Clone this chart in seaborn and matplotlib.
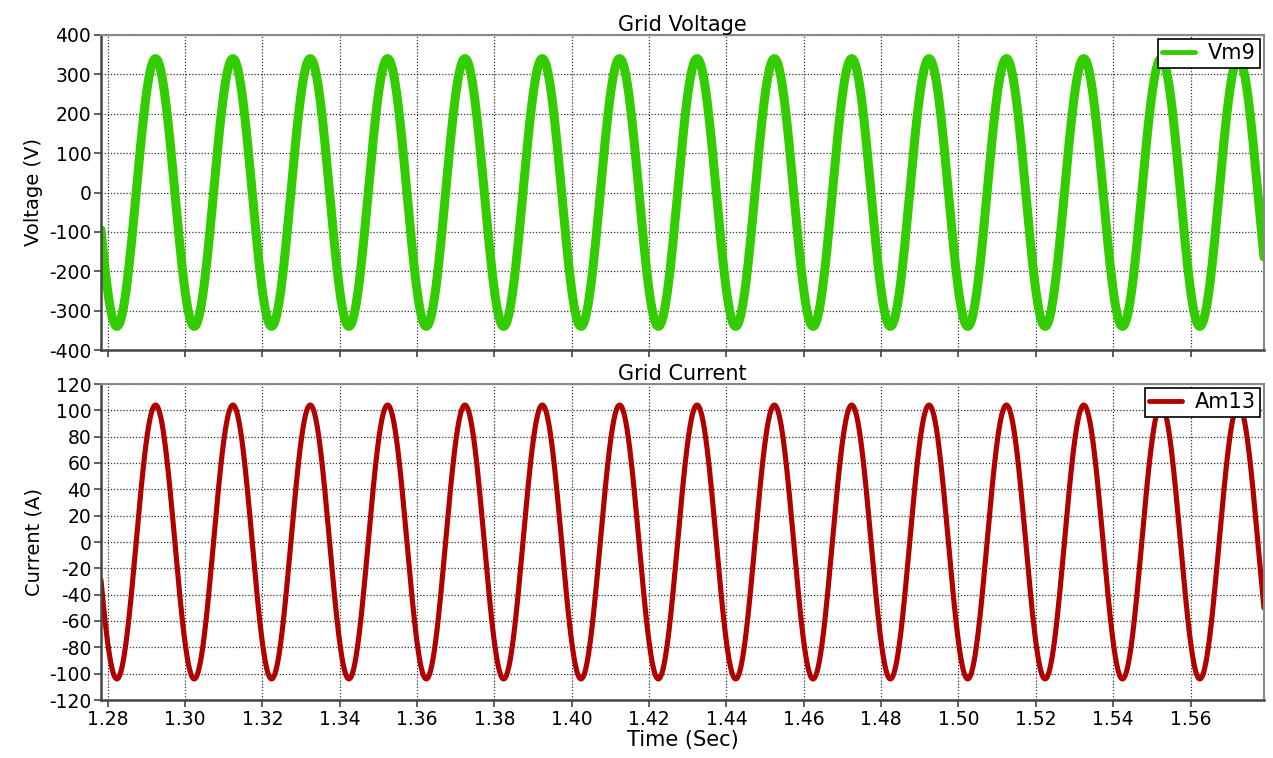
import numpy as np
import pandas as pd
import matplotlib
matplotlib.use("Agg")
import matplotlib.pyplot as plt
import seaborn as sns

# Values (50 Hz grid waveforms)
freq_hz = 50.0
voltage_peak = 340.0        # V
current_peak = 104.0        # A
first_trough_time = 1.2824  # s, both signals have a trough here
t_start, t_end = 1.2783, 1.5790

x_ticks = [1.28, 1.30, 1.32, 1.34, 1.36, 1.38, 1.40, 1.42, 1.44, 1.46,
           1.48, 1.50, 1.52, 1.54, 1.56]
x_tick_labels = ["1.28", "1.30", "1.32", "1.34", "1.36", "1.38", "1.40", "1.42",
                 "1.44", "1.46", "1.48", "1.50", "1.52", "1.54", "1.56"]
v_ticks = [-400, -300, -200, -100, 0, 100, 200, 300, 400]
i_ticks = [-120, -100, -80, -60, -40, -20, 0, 20, 40, 60, 80, 100, 120]

time = np.linspace(t_start, t_end, 3000)
phase = 2 * np.pi * freq_hz * (time - first_trough_time)
df = pd.DataFrame({
    "time": time,
    "Vm9": -voltage_peak * np.cos(phase),
    "Am13": -current_peak * np.cos(phase),
})

sns.set_style("white")
plt.rcParams["font.family"] = ["DejaVu Sans"]
plt.rcParams["text.color"] = "black"
plt.rcParams["axes.labelcolor"] = "black"
plt.rcParams["xtick.color"] = "black"
plt.rcParams["ytick.color"] = "black"

fig = plt.figure(figsize=(12.73, 7.58), dpi=100)
W, H = 1273, 758
ax1 = fig.add_axes([101 / W, (H - 350) / H, 1163 / W, 315 / H])
ax2 = fig.add_axes([101 / W, (H - 700) / H, 1163 / W, 316 / H])

sns.lineplot(data=df, x="time", y="Vm9", ax=ax1, color="#33cc00", lw=6.5,
             label="Vm9", estimator=None)
sns.lineplot(data=df, x="time", y="Am13", ax=ax2, color="#b00000", lw=3.7,
             label="Am13", estimator=None)

fs = 13.5
for ax, yt, title, ylab in [(ax1, v_ticks, "Grid Voltage", "Voltage (V)"),
                            (ax2, i_ticks, "Grid Current", "Current (A)")]:
    ax.set_xlim(t_start, t_end)
    ax.set_ylim(yt[0], yt[-1])
    ax.set_yticks(yt)
    ax.set_yticklabels([str(v) for v in yt], fontsize=fs)
    ax.set_xticks(x_ticks)
    ax.grid(True, color="#333333", linestyle=(0, (1, 1.5)), linewidth=0.9)
    ax.set_title(title, fontsize=15, pad=3)
    ax.set_ylabel(ylab, fontsize=14, labelpad=4)
    for s in ["left", "bottom"]:
        ax.spines[s].set_color("#444444")
        ax.spines[s].set_linewidth(1.8)
    for s in ["top", "right"]:
        ax.spines[s].set_color("#888888")
        ax.spines[s].set_linewidth(1.5)
    ax.tick_params(axis="both", direction="out", length=5, width=1.2,
                   color="#444444", left=True, bottom=True, pad=2)
    leg = ax.legend(loc="upper right", fontsize=15, frameon=True, fancybox=False,
                    handlelength=1.6, handletextpad=0.6, borderpad=0.2,
                    borderaxespad=0.2, framealpha=1)
    leg.get_frame().set_edgecolor("black")
    leg.get_frame().set_linewidth(1.2)
    for line in leg.get_lines():
        line.set_linewidth(3.5)

ax1.set_xlabel("")
ax1.set_xticklabels([])
ax2.set_xticklabels(x_tick_labels, fontsize=fs)
ax2.set_xlabel("Time (Sec)", fontsize=15, labelpad=1)

fig.savefig("out.png", dpi=100)
